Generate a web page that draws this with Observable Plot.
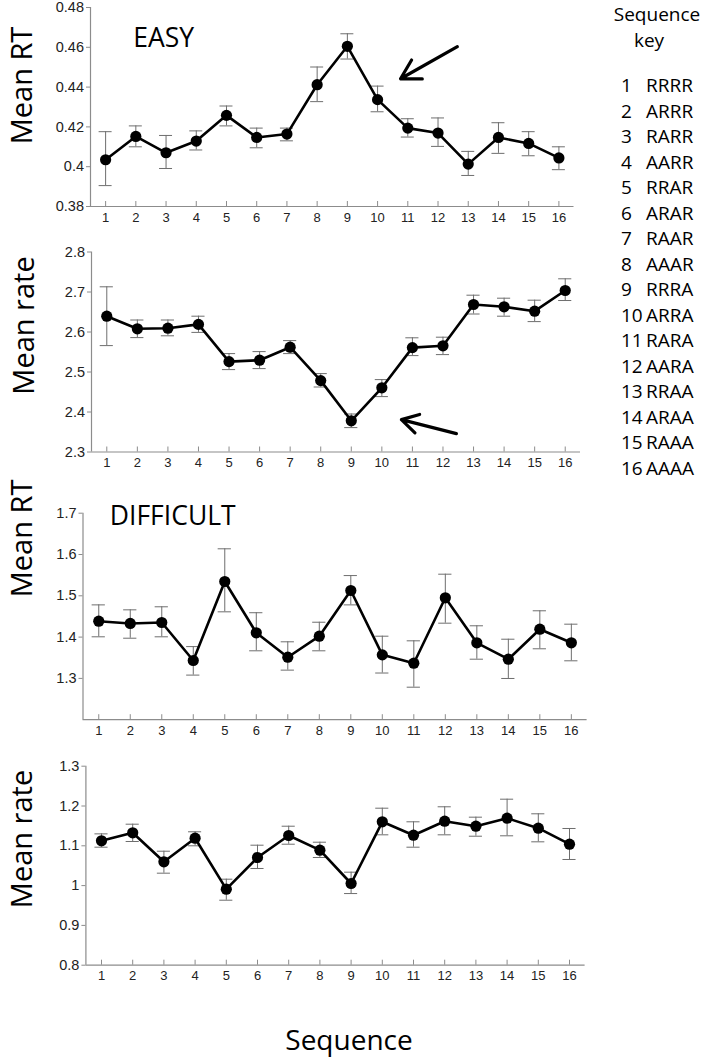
<!DOCTYPE html>
<html><head><meta charset="utf-8">
<script src="https://cdn.jsdelivr.net/npm/d3@7"></script>
<script src="https://cdn.jsdelivr.net/npm/@observablehq/plot@0.6"></script>
<style>
body{margin:0;background:#fff;}
#wrap{position:relative;width:708px;height:1059px;overflow:hidden;background:#fff;}
#wrap > svg{position:absolute;left:0;}
</style></head><body><div id="wrap"></div>
<script>
// ---- data ----
const sequences = [1,2,3,4,5,6,7,8,9,10,11,12,13,14,15,16];
const sequenceCodes = ["RRRR","ARRR","RARR","AARR","RRAR","ARAR","RAAR","AAAR","RRRA","ARRA","RARA","AARA","RRAA","ARAA","RAAA","AAAA"];

const easyRT    = [0.4035,0.4152,0.4070,0.4129,0.4258,0.4147,0.4164,0.4412,0.4605,0.4337,0.4194,0.4169,0.4013,0.4147,0.4117,0.4044];
const easyRTLo  = [0.3905,0.4100,0.3991,0.4084,0.4205,0.4095,0.4130,0.4327,0.4541,0.4276,0.4149,0.4102,0.3956,0.4067,0.4055,0.3985];
const easyRTHi  = [0.4176,0.4205,0.4157,0.4180,0.4305,0.4194,0.4194,0.4501,0.4668,0.4405,0.4241,0.4245,0.4077,0.4221,0.4176,0.4100];

const easyRate   = [2.6395,2.608,2.6095,2.619,2.526,2.5295,2.562,2.4785,2.378,2.4605,2.561,2.5655,2.6688,2.663,2.652,2.7037];
const easyRateLo = [2.566,2.586,2.5905,2.599,2.506,2.5085,2.546,2.4625,2.361,2.4385,2.541,2.5435,2.645,2.6395,2.626,2.6787];
const easyRateHi = [2.713,2.630,2.630,2.6395,2.546,2.551,2.5785,2.496,2.395,2.481,2.5855,2.587,2.692,2.6845,2.6795,2.733];

const diffRT    = [1.4385,1.433,1.4354,1.3433,1.5346,1.4104,1.3513,1.4022,1.5128,1.357,1.3368,1.4952,1.3862,1.3465,1.4191,1.3862];
const diffRTLo  = [1.4007,1.3973,1.4007,1.308,1.4612,1.3668,1.3200,1.3668,1.478,1.313,1.2787,1.4337,1.3465,1.2998,1.3717,1.3426];
const diffRTHi  = [1.478,1.466,1.4734,1.377,1.6138,1.459,1.3886,1.436,1.549,1.4022,1.391,1.5523,1.4274,1.3949,1.4637,1.4313];

const diffRate   = [1.1126,1.1327,1.0598,1.1191,0.991,1.0706,1.1259,1.089,1.0053,1.1603,1.1266,1.1618,1.1492,1.1693,1.1442,1.104];
const diffRateLo = [1.0965,1.1108,1.0312,1.100,0.9633,1.043,1.104,1.0706,0.98,1.1276,1.0965,1.1276,1.1241,1.1251,1.11,1.0656];
const diffRateHi = [1.130,1.1543,1.0864,1.1352,1.0161,1.1015,1.1492,1.109,1.0337,1.1945,1.1603,1.198,1.1719,1.2171,1.1804,1.1435];

const easyRTTicks   = [0.38,0.4,0.42,0.44,0.46,0.48];
const easyRateTicks = [2.3,2.4,2.5,2.6,2.7,2.8];
const diffRTTicks   = [1.3,1.4,1.5,1.6,1.7];
const diffRateTicks = [0.8,0.9,1,1.1,1.2,1.3];

const yLabels = ["Mean RT","Mean rate","Mean RT","Mean rate"];
const panelTitles = ["EASY","","DIFFICULT",""];
const xTitle = "Sequence";
const keyTitle = ["Sequence","key"];

// annotation arrows (data units)
const easyRTArrow   = [{x1:12.64, y1:0.4603, x2:10.76, y2:0.4442}];
const easyRateArrow = [{x1:12.44, y1:2.346,  x2:10.64, y2:2.381}];

// ---- layout ----
const W = 708;
const panels = [
  {vals:easyRT, lo:easyRTLo, hi:easyRTHi, ticks:easyRTTicks, ydom:[0.38,0.48], arrow:easyRTArrow,
   top:0, height:230, mt:7, mb:24, ml:90, mr:134.5, capHalf:0.215,
   tdx:-68, tdy:-21.5, ttdx:42.7, ttdy:21},
  {vals:easyRate, lo:easyRateLo, hi:easyRateHi, ticks:easyRateTicks, ydom:[2.3,2.8], arrow:easyRateArrow,
   top:235, height:240, mt:16.5, mb:23.5, ml:91, mr:128, capHalf:0.215,
   tdx:-67, tdy:-26.5, ttdx:0, ttdy:0},
  {vals:diffRT, lo:diffRTLo, hi:diffRTHi, ticks:diffRTTicks, ydom:[1.2,1.7], arrow:[],
   top:490, height:250, mt:22.7, mb:20.8, ml:82.5, mr:121.4, capHalf:0.21,
   tdx:-60.5, tdy:-78, ttdx:26.8, ttdy:-7},
  {vals:diffRate, lo:diffRateLo, hi:diffRateHi, ticks:diffRateTicks, ydom:[0.8,1.3], arrow:[],
   top:745, height:240, mt:20.7, mb:20.3, ml:85.4, mr:123.4, capHalf:0.21,
   tdx:-63.4, tdy:-26.7, ttdx:0, ttdy:0}
];

const axisGray = "#8c8c8c";
const errGray = "#6e6e6e";
const wrap = document.getElementById("wrap");

panels.forEach((p, k) => {
  const data = sequences.map((s, i) => ({seq: s, v: p.vals[i], lo: p.lo[i], hi: p.hi[i]}));
  const xdom = [0.5, 16.5];
  const marks = [
    Plot.ruleY([p.ydom[0]], {stroke: axisGray, strokeWidth: 1.2}),
    Plot.ruleX([xdom[0]], {stroke: axisGray, strokeWidth: 1.2}),
    Plot.axisX({ticks: sequences, tickSize: 5, dy: -5, fill: "none", stroke: axisGray, label: null}),
    Plot.axisX({ticks: sequences, tickSize: 0, tickPadding: 6, fontSize: 13, fill: "#222", label: null, tickFormat: d => String(d)}),
    Plot.axisY({ticks: p.ticks, tickSize: 4, tickPadding: 2.5, fontSize: 14.5, stroke: axisGray, fill: "#222", label: null, tickFormat: d => String(d)}),
    Plot.ruleX(data, {x: "seq", y1: "lo", y2: "hi", stroke: errGray, strokeWidth: 1}),
    Plot.ruleY(data, {y: "lo", x1: d => d.seq - p.capHalf, x2: d => d.seq + p.capHalf, stroke: errGray, strokeWidth: 1}),
    Plot.ruleY(data, {y: "hi", x1: d => d.seq - p.capHalf, x2: d => d.seq + p.capHalf, stroke: errGray, strokeWidth: 1}),
    Plot.line(data, {x: "seq", y: "v", stroke: "#000", strokeWidth: 2.6}),
    Plot.dot(data, {x: "seq", y: "v", r: 5.6, fill: "#000", stroke: "none"}),
    Plot.text([yLabels[k]], {frameAnchor: "left", text: d => d, rotate: -90, textAnchor: "middle", lineAnchor: "middle",
      dx: p.tdx, dy: p.tdy, fontSize: 29, fontFamily: "Open Sans", fill: "#000"})
  ];
  if (panelTitles[k]) {
    marks.push(Plot.text([panelTitles[k]], {frameAnchor: "top-left", text: d => d, textAnchor: "start", lineAnchor: "top",
      dx: p.ttdx, dy: p.ttdy, fontSize: 26.5, fontFamily: "Open Sans", fill: "#000"}));
  }
  if (p.arrow.length) {
    marks.push(Plot.arrow(p.arrow, {x1: "x1", y1: "y1", x2: "x2", y2: "y2", stroke: "#000", strokeWidth: 3.2, headLength: 14, headAngle: 60}));
  }
  const chart = Plot.plot({
    width: W, height: p.height,
    marginTop: p.mt, marginBottom: p.mb, marginLeft: p.ml, marginRight: p.mr,
    x: {domain: xdom, label: null},
    y: {domain: p.ydom, label: null},
    style: {fontFamily: "Liberation Sans, Arial, sans-serif", background: "transparent", overflow: "visible"},
    marks
  });
  chart.style.top = p.top + "px";
  wrap.appendChild(chart);
});

// ---- overlay text: x title and sequence key ----
const ov = d3.select(wrap).append("svg")
  .attr("width", W).attr("height", 1059)
  .style("top", "0px").style("pointer-events", "none");
ov.append("text").attr("x", 349).attr("y", 1050).attr("text-anchor", "middle")
  .attr("font-family", "Open Sans").attr("font-size", 28).text(xTitle);
ov.append("text").attr("x", 657).attr("y", 21).attr("text-anchor", "middle")
  .attr("font-family", "Open Sans").attr("font-size", 19).text(keyTitle[0]);
ov.append("text").attr("x", 649).attr("y", 47).attr("text-anchor", "middle")
  .attr("font-family", "Open Sans").attr("font-size", 19).text(keyTitle[1]);
const rows = ov.append("g").attr("font-family", "Open Sans").attr("font-size", 19);
sequences.forEach((s, i) => {
  const y = 92 + i * 25.5;
  rows.append("text").attr("x", 621).attr("y", y).text(String(s));
  rows.append("text").attr("x", 646).attr("y", y).text(sequenceCodes[i]);
});
</script></body></html>
